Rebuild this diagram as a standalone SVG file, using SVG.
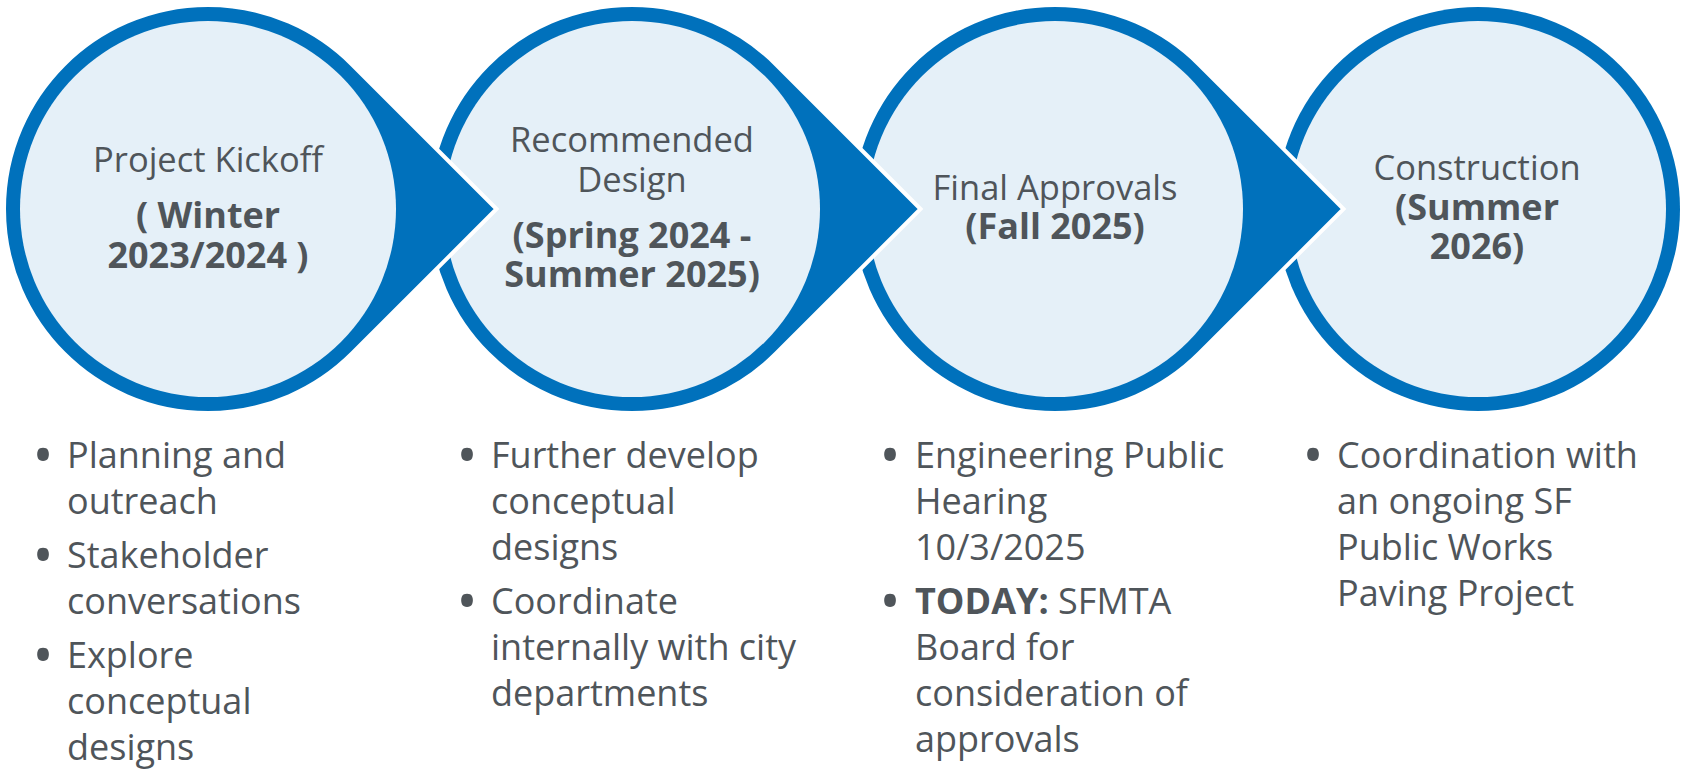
<svg xmlns="http://www.w3.org/2000/svg" width="1685" height="770" viewBox="0 0 1685 770">
<style>
.drop{fill:#0071BC;stroke:#FFFFFF;stroke-width:4;stroke-linejoin:miter}
.ring{fill:#0071BC}
.inner{fill:#E5F0F8}
.t{font-family:"Open Sans","Liberation Sans",sans-serif;fill:#4F555A}
.h{font-size:34.5px;text-anchor:middle}
.hb{font-size:36px;font-weight:bold;text-anchor:middle}
.b{font-size:36px}
.dot{font-size:56px;text-anchor:middle}
</style>
<rect width="1685" height="770" fill="#FFFFFF"/>
<g id="node4">
<circle class="ring" cx="1478" cy="209" r="202"/>
<circle class="inner" cx="1478" cy="209" r="188"/>
<text class="t h" x="1477" y="180">Construction</text>
<text class="t hb" x="1477" y="220">(Summer</text>
<text class="t hb" x="1477" y="259">2026)</text>
</g>
<g id="node3">
<path class="drop" d="M1343.5 209 L1199.25 64.75 A204 204 0 1 0 1199.25 353.25 Z"/>
<circle class="inner" cx="1055" cy="209" r="188"/>
<text class="t h" x="1055" y="200">Final Approvals</text>
<text class="t hb" x="1055" y="239">(Fall 2025)</text>
</g>
<g id="node2">
<path class="drop" d="M920.5 209 L776.25 64.75 A204 204 0 1 0 776.25 353.25 Z"/>
<circle class="inner" cx="632" cy="209" r="188"/>
<text class="t h" x="632" y="152">Recommended</text>
<text class="t h" x="632" y="192">Design</text>
<text class="t hb" x="632" y="248">(Spring 2024 -</text>
<text class="t hb" x="632" y="287">Summer 2025)</text>
</g>
<g id="node1">
<path class="drop" d="M496.5 209 L352.25 64.75 A204 204 0 1 0 352.25 353.25 Z"/>
<circle class="inner" cx="208" cy="209" r="188"/>
<text class="t h" x="208" y="172">Project Kickoff</text>
<text class="t hb" x="208" y="228">( Winter</text>
<text class="t hb" x="208" y="268">2023/2024 )</text>
</g>
<g id="connectors"></g>
<g id="list1">
<text class="t dot" x="43" y="475">•</text>
<text class="t b" x="67" y="468">Planning and</text>
<text class="t b" x="67" y="514">outreach</text>
<text class="t dot" x="43" y="575">•</text>
<text class="t b" x="67" y="568">Stakeholder</text>
<text class="t b" x="67" y="614">conversations</text>
<text class="t dot" x="43" y="675">•</text>
<text class="t b" x="67" y="668">Explore</text>
<text class="t b" x="67" y="714">conceptual</text>
<text class="t b" x="67" y="760">designs</text>
</g>
<g id="list2">
<text class="t dot" x="467" y="475">•</text>
<text class="t b" x="491" y="468">Further develop</text>
<text class="t b" x="491" y="514">conceptual</text>
<text class="t b" x="491" y="560">designs</text>
<text class="t dot" x="467" y="621">•</text>
<text class="t b" x="491" y="614">Coordinate</text>
<text class="t b" x="491" y="660">internally with city</text>
<text class="t b" x="491" y="706">departments</text>
</g>
<g id="list3">
<text class="t dot" x="890" y="475">•</text>
<text class="t b" x="915" y="468">Engineering Public</text>
<text class="t b" x="915" y="514">Hearing</text>
<text class="t b" x="915" y="560">10/3/2025</text>
<text class="t dot" x="890" y="621">•</text>
<text class="t b" x="915" y="614"><tspan font-weight="bold">TODAY:</tspan> SFMTA</text>
<text class="t b" x="915" y="660">Board for</text>
<text class="t b" x="915" y="706">consideration of</text>
<text class="t b" x="915" y="752">approvals</text>
</g>
<g id="list4">
<text class="t dot" x="1313" y="475">•</text>
<text class="t b" x="1337" y="468">Coordination with</text>
<text class="t b" x="1337" y="514">an ongoing SF</text>
<text class="t b" x="1337" y="560">Public Works</text>
<text class="t b" x="1337" y="606">Paving Project</text>
</g>
</svg>
